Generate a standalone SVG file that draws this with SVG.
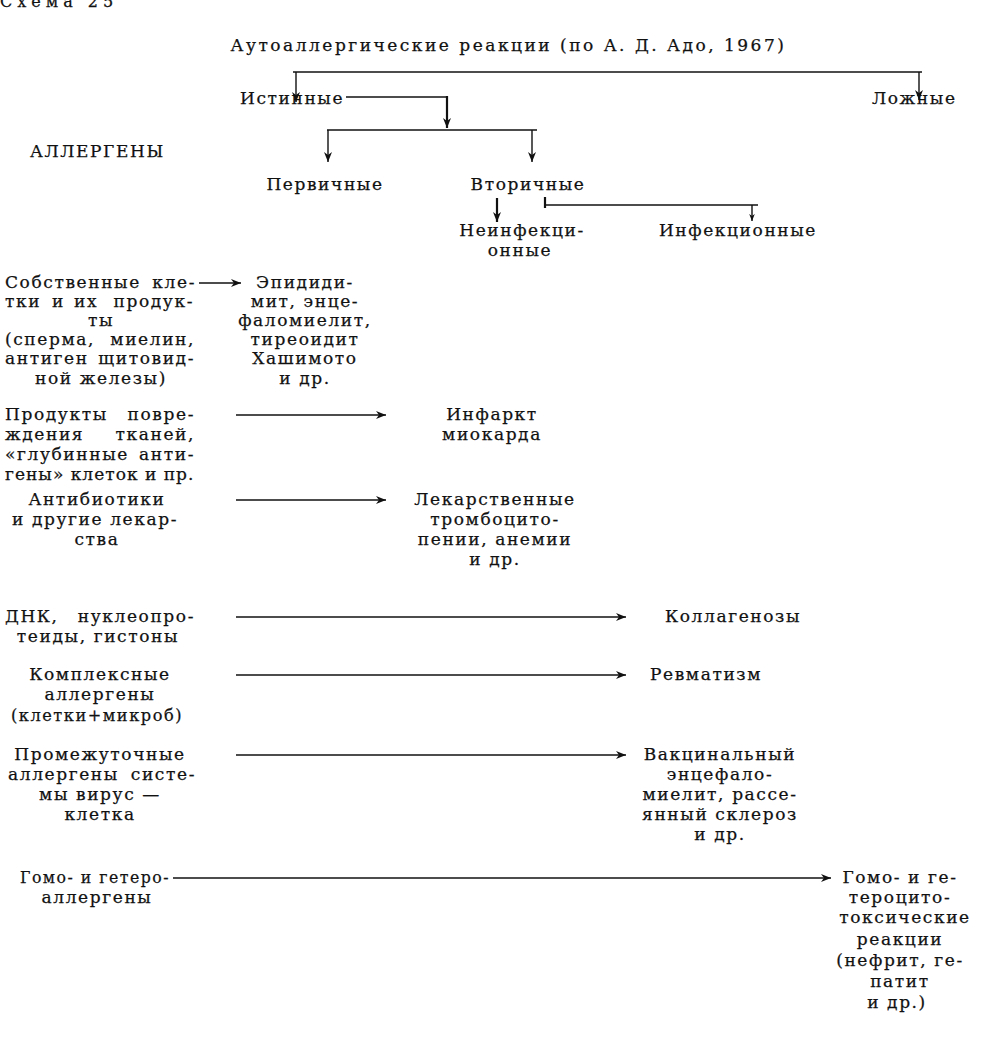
<svg xmlns="http://www.w3.org/2000/svg" width="1003" height="1046" viewBox="0 0 1003 1046">
<style>
text{font-family:"DejaVu Serif","Liberation Serif",serif;font-size:17px;fill:#111;letter-spacing:1.6px;stroke:#111;stroke-width:0.25}
.c{text-anchor:middle}
.e{text-anchor:end}
.ln{stroke:#111;stroke-width:1.4;fill:none}
.bold{stroke-width:2.2}
</style>
<defs>
<marker id="ah" viewBox="0 0 10 8" refX="10" refY="4" markerWidth="10" markerHeight="8" markerUnits="userSpaceOnUse" orient="auto"><path d="M0,0 L10,4 L0,8 L3,4 z" fill="#111"/></marker>
<marker id="ahs" viewBox="0 0 10 8" refX="10" refY="4" markerWidth="7" markerHeight="6" markerUnits="userSpaceOnUse" orient="auto"><path d="M0,0 L10,4 L0,8 L3,4 z" fill="#111"/></marker>
</defs>
<rect width="1003" height="1046" fill="#fff"/>
<text x="0" y="7" style="letter-spacing:5px;font-size:16px">Схема 25</text>

<g id="title"><text x="508" y="51" class="c" textLength="555">Аутоаллергические реакции (по А. Д. Адо, 1967)</text></g>
<g id="istinnye"><text x="240" y="104">Истинные</text></g>
<g id="lozhnye"><text x="872" y="104">Ложные</text></g>
<g id="allergeny"><text x="30" y="157">АЛЛЕРГЕНЫ</text></g>
<g id="pervichnye"><text x="325" y="190" class="c">Первичные</text></g>
<g id="vtorichnye"><text x="528" y="190" class="c">Вторичные</text></g>
<g id="neinfekc"><text x="522" y="236" class="c">Неинфекци-</text><text x="520" y="256" class="c">онные</text></g>
<g id="infekc"><text x="738" y="236" class="c">Инфекционные</text></g>

<g id="src1">
<text y="288"><tspan x="5">Собственные</tspan><tspan x="196" class="e">кле-</tspan></text>
<text y="307"><tspan x="5">тки</tspan><tspan x="52">и</tspan><tspan x="74">их</tspan><tspan x="194" class="e">продук-</tspan></text>
<text x="101" y="326" class="c">ты</text>
<text y="345"><tspan x="5">(сперма,</tspan><tspan x="195" class="e">миелин,</tspan></text>
<text y="364"><tspan x="5">антиген</tspan><tspan x="195" class="e">щитовид-</tspan></text>
<text x="101" y="384" class="c">ной железы)</text>
</g>
<g id="res1">
<text x="305" y="288" class="c">Эпидиди-</text>
<text x="305" y="307" class="c">мит, энце-</text>
<text x="305" y="326" class="c">фаломиелит,</text>
<text x="305" y="345" class="c">тиреоидит</text>
<text x="305" y="364" class="c">Хашимото</text>
<text x="305" y="384" class="c">и др.</text>
</g>

<g id="src2">
<text y="420"><tspan x="5">Продукты</tspan><tspan x="195" class="e">повре-</tspan></text>
<text y="440"><tspan x="5">ждения</tspan><tspan x="195" class="e">тканей,</tspan></text>
<text y="460"><tspan x="5">«глубинные</tspan><tspan x="195" class="e">анти-</tspan></text>
<text x="5" y="480" textLength="190">гены» клеток и пр.</text>
</g>
<g id="res2">
<text x="492" y="420" class="c">Инфаркт</text>
<text x="492" y="440" class="c">миокарда</text>
</g>

<g id="src3">
<text x="97" y="505" class="c">Антибиотики</text>
<text x="95" y="525" class="c">и другие лекар-</text>
<text x="97" y="545" class="c">ства</text>
</g>
<g id="res3">
<text x="495" y="505" class="c">Лекарственные</text>
<text x="495" y="525" class="c">тромбоцито-</text>
<text x="495" y="545" class="c">пении, анемии</text>
<text x="495" y="565" class="c">и др.</text>
</g>

<g id="src4">
<text y="622"><tspan x="5">ДНК,</tspan><tspan x="195" class="e">нуклеопро-</tspan></text>
<text x="98" y="642" class="c">теиды, гистоны</text>
</g>
<g id="res4"><text x="665" y="622">Коллагенозы</text></g>

<g id="src5">
<text x="100" y="680" class="c">Комплексные</text>
<text x="100" y="700" class="c">аллергены</text>
<text x="97" y="721" class="c" textLength="172" lengthAdjust="spacingAndGlyphs">(клетки+микроб)</text>
</g>
<g id="res5"><text x="650" y="680">Ревматизм</text></g>

<g id="src6">
<text x="100" y="760" class="c">Промежуточные</text>
<text y="780"><tspan x="8">аллергены</tspan><tspan x="196" class="e">систе-</tspan></text>
<text x="100" y="800" class="c">мы вирус —</text>
<text x="100" y="820" class="c">клетка</text>
</g>
<g id="res6">
<text x="720" y="760" class="c">Вакцинальный</text>
<text x="720" y="780" class="c">энцефало-</text>
<text x="720" y="800" class="c">миелит, рассе-</text>
<text x="720" y="820" class="c">янный склероз</text>
<text x="720" y="840" class="c">и др.</text>
</g>

<g id="src7">
<text x="20" y="883" textLength="150" lengthAdjust="spacingAndGlyphs">Гомо- и гетеро-</text>
<text x="97" y="903" class="c">аллергены</text>
</g>
<g id="res7">
<text x="900" y="883" class="c">Гомо- и ге-</text>
<text x="900" y="903" class="c">тероцито-</text>
<text x="905" y="923" class="c">токсические</text>
<text x="900" y="945" class="c">реакции</text>
<text x="900" y="966" class="c">(нефрит, ге-</text>
<text x="900" y="987" class="c">патит</text>
<text x="897" y="1008" class="c">и др.)</text>
</g>

<g id="connectors">
<path class="ln" d="M293,72 H922"/>
<path class="ln" d="M296,72 V102" marker-end="url(#ah)"/>
<path class="ln" d="M919,72 V100" marker-end="url(#ah)"/>
<path class="ln" d="M346,97 H447"/>
<path class="ln bold" d="M447,96 V128" marker-end="url(#ah)"/>
<path class="ln" d="M327,130 H537"/>
<path class="ln" d="M328,130 V162" marker-end="url(#ah)"/>
<path class="ln" d="M532,130 V162" marker-end="url(#ah)"/>
<path class="ln bold" d="M497,198 V222" marker-end="url(#ah)"/>
<path class="ln bold" d="M545,197 V208"/>
<path class="ln" d="M545,205 H758"/>
<path class="ln" d="M752,205 V221" marker-end="url(#ahs)"/>
<path class="ln" d="M199,283 H241" marker-end="url(#ah)"/>
<path class="ln" d="M236,415 H386" marker-end="url(#ah)"/>
<path class="ln" d="M236,500 H386" marker-end="url(#ah)"/>
<path class="ln" d="M236,617 H626" marker-end="url(#ah)"/>
<path class="ln" d="M236,675 H626" marker-end="url(#ah)"/>
<path class="ln" d="M236,755 H626" marker-end="url(#ah)"/>
<path class="ln" d="M173,878 H831" marker-end="url(#ah)"/>
</g>
</svg>
